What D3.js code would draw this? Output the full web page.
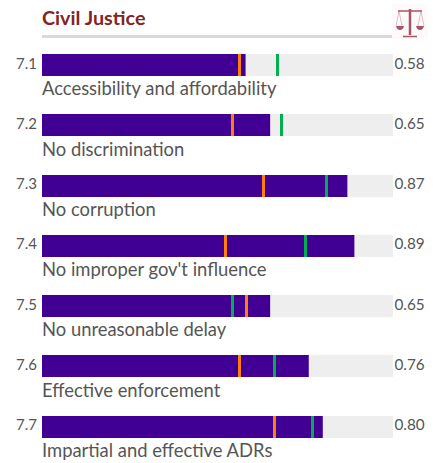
<!DOCTYPE html>
<html>
<head>
<meta charset="utf-8">
<script src="https://cdnjs.cloudflare.com/ajax/libs/d3/7.8.5/d3.min.js"></script>
<style>
  body { margin: 0; background: #fff; }
  text { font-family: Lato, sans-serif; }
</style>
</head>
<body>
<div id="chart"></div>
<script>
var ids = ["7.1", "7.2", "7.3", "7.4", "7.5", "7.6", "7.7"];
var labels = ["Accessibility and affordability", "No discrimination", "No corruption",
  "No improper gov't influence", "No unreasonable delay", "Effective enforcement", "Impartial and effective ADRs"];
var scores = [0.58, 0.65, 0.87, 0.89, 0.65, 0.76, 0.80];
var orangeVals = [0.563, 0.543, 0.631, 0.523, 0.583, 0.563, 0.662];
var greenVals = [0.671, 0.682, 0.811, 0.751, 0.543, 0.662, 0.771];

var w = 440, h = 463;
var svg = d3.select("#chart").append("svg").attr("width", w).attr("height", h).style("display", "block");

var x = d3.scaleLinear().domain([0, 1]).range([42, 393]);
var y = d3.scaleBand().domain(ids).range([53.92, 476.02]);
var barH = 22;

function rowY(d) { return Math.round(y(d)); }
function markX(v) { return Math.round(x(v) - 1.5); }

//title + rule
svg.append("text").attr("x", 42).attr("y", 25).attr("font-size", 19.8).attr("font-weight", 700)
  .attr("fill", "#832525").text("Civil Justice");
svg.append("rect").attr("x", 42).attr("y", 35).attr("width", 350).attr("height", 3).attr("fill", "#d9d9d9");

//scales icon, the original is a small blurry picture
svg.append("rect").attr("x", 392).attr("y", 4).attr("width", 36).attr("height", 35).attr("fill", "#fef9fa");
var icon = svg.append("g").attr("stroke", "#963a50").attr("fill", "none").attr("opacity", 0.85);
icon.append("path").attr("d", "M410 9V35").attr("stroke-width", 2.5);
icon.append("path").attr("d", "M403 36.5H417").attr("stroke-width", 1.5);
icon.append("path").attr("d", "M398 11H422").attr("stroke-width", 1.5);
icon.append("path").attr("d", "M399 11L396 26M399 11L402 26M421 11L418 26M421 11L424 26").attr("stroke-width", 0.6).attr("opacity", 0.6);
icon.append("path").attr("d", "M396 26H404Q403 30 400 30Q397 30 396 26Z").attr("fill", "#963a50").attr("stroke", "none");
icon.append("path").attr("d", "M416 26H424Q423 30 420 30Q417 30 416 26Z").attr("fill", "#963a50").attr("stroke", "none");

var rows = svg.selectAll(".row").data(ids).enter().append("g").attr("class", "row");

rows.append("rect").attr("x", x(0)).attr("y", rowY)
  .attr("width", x(1) - x(0)).attr("height", barH).attr("fill", "#eeeeee");

rows.append("rect").attr("x", x(0)).attr("y", rowY)
  .attr("width", function(d, i) { return x(scores[i]) - x(0); }).attr("height", barH).attr("fill", "#410093");

rows.append("rect").attr("x", function(d, i) { return markX(orangeVals[i]); }).attr("y", rowY)
  .attr("width", 3).attr("height", barH).attr("fill", "#ff7f0e");

rows.append("rect").attr("x", function(d, i) { return markX(greenVals[i]); }).attr("y", rowY)
  .attr("width", 3).attr("height", barH).attr("fill", "#00b050");

rows.append("text").attr("x", 37).attr("y", function(d) { return y(d) + 14.6; }).attr("text-anchor", "end")
  .attr("font-size", 15).attr("fill", "#555").text(function(d) { return d; });

rows.append("text").attr("x", 394.5).attr("y", function(d) { return y(d) + 14.6; })
  .attr("font-size", 15.3).attr("fill", "#555").text(function(d, i) { return scores[i].toFixed(2); });

rows.append("text").attr("x", 42).attr("y", function(d) { return y(d) + 41.35; })
  .attr("font-size", 18.4).attr("fill", "#555").text(function(d, i) { return labels[i]; });
</script>
</body>
</html>
